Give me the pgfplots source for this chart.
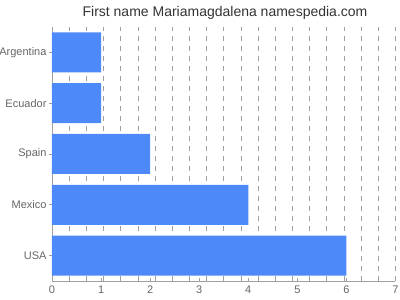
\documentclass[border=0pt]{standalone}
\usepackage{pgfplots}
\pgfplotsset{compat=1.18}
\usepackage{fontspec}
\setmainfont{Liberation Sans}
\definecolor{barblue}{RGB}{77,137,249}
\definecolor{tickgray}{RGB}{102,102,102}
\definecolor{gridgray}{RGB}{160,160,160}
\begin{document}
\begin{tikzpicture}[x=1pt,y=1pt]
\useasboundingbox (0,0) rectangle (400,300);
\node[anchor=base,text=black!80,font=\fontsize{14}{16}\selectfont,inner sep=0] at (225,283.3) {First name Mariamagdalena namespedia.com};
\begin{axis}[
  at={(52pt,19pt)}, anchor=south west,
  scale only axis, width=343.5pt, height=254pt,
  xbar, bar width=40pt,
  xmin=0, xmax=7, ymin=-0.5, ymax=4.5,
  axis x line*=bottom, axis y line*=left,
  axis line style={gridgray, line width=0.8pt},
  xtick={0,1,2,3,4,5,6,7},
  minor xtick={0.35,0.7,1.05,1.4,1.75,2.1,2.45,2.8,3.15,3.5,3.85,4.2,4.55,4.9,5.25,5.6,5.95,6.3,6.65,7},
  xminorgrids=true,
  minor grid style={gridgray, line width=0.6pt, dash pattern=on 5pt off 5pt},
  minor tick style={gridgray, line width=0.6pt},
  minor tick length=5pt,
  major tick style={gridgray, line width=0.6pt},
  major tick length=3pt,
  xtick align=inside,
  ytick align=outside,
  ytick={0,1,2,3,4},
  yticklabels={USA,Mexico,Spain,Ecuador,Argentina},
  tick label style={font=\fontsize{11}{12}\selectfont, text=tickgray},
  /pgf/number format/assume math mode=true,
  xticklabel style={yshift=-1pt},
  yticklabel style={xshift=1pt},
]
\addplot[fill=barblue, draw=none] coordinates {(6,0) (4,1) (2,2) (1,3) (1,4)};
\end{axis}
\end{tikzpicture}
\end{document}
